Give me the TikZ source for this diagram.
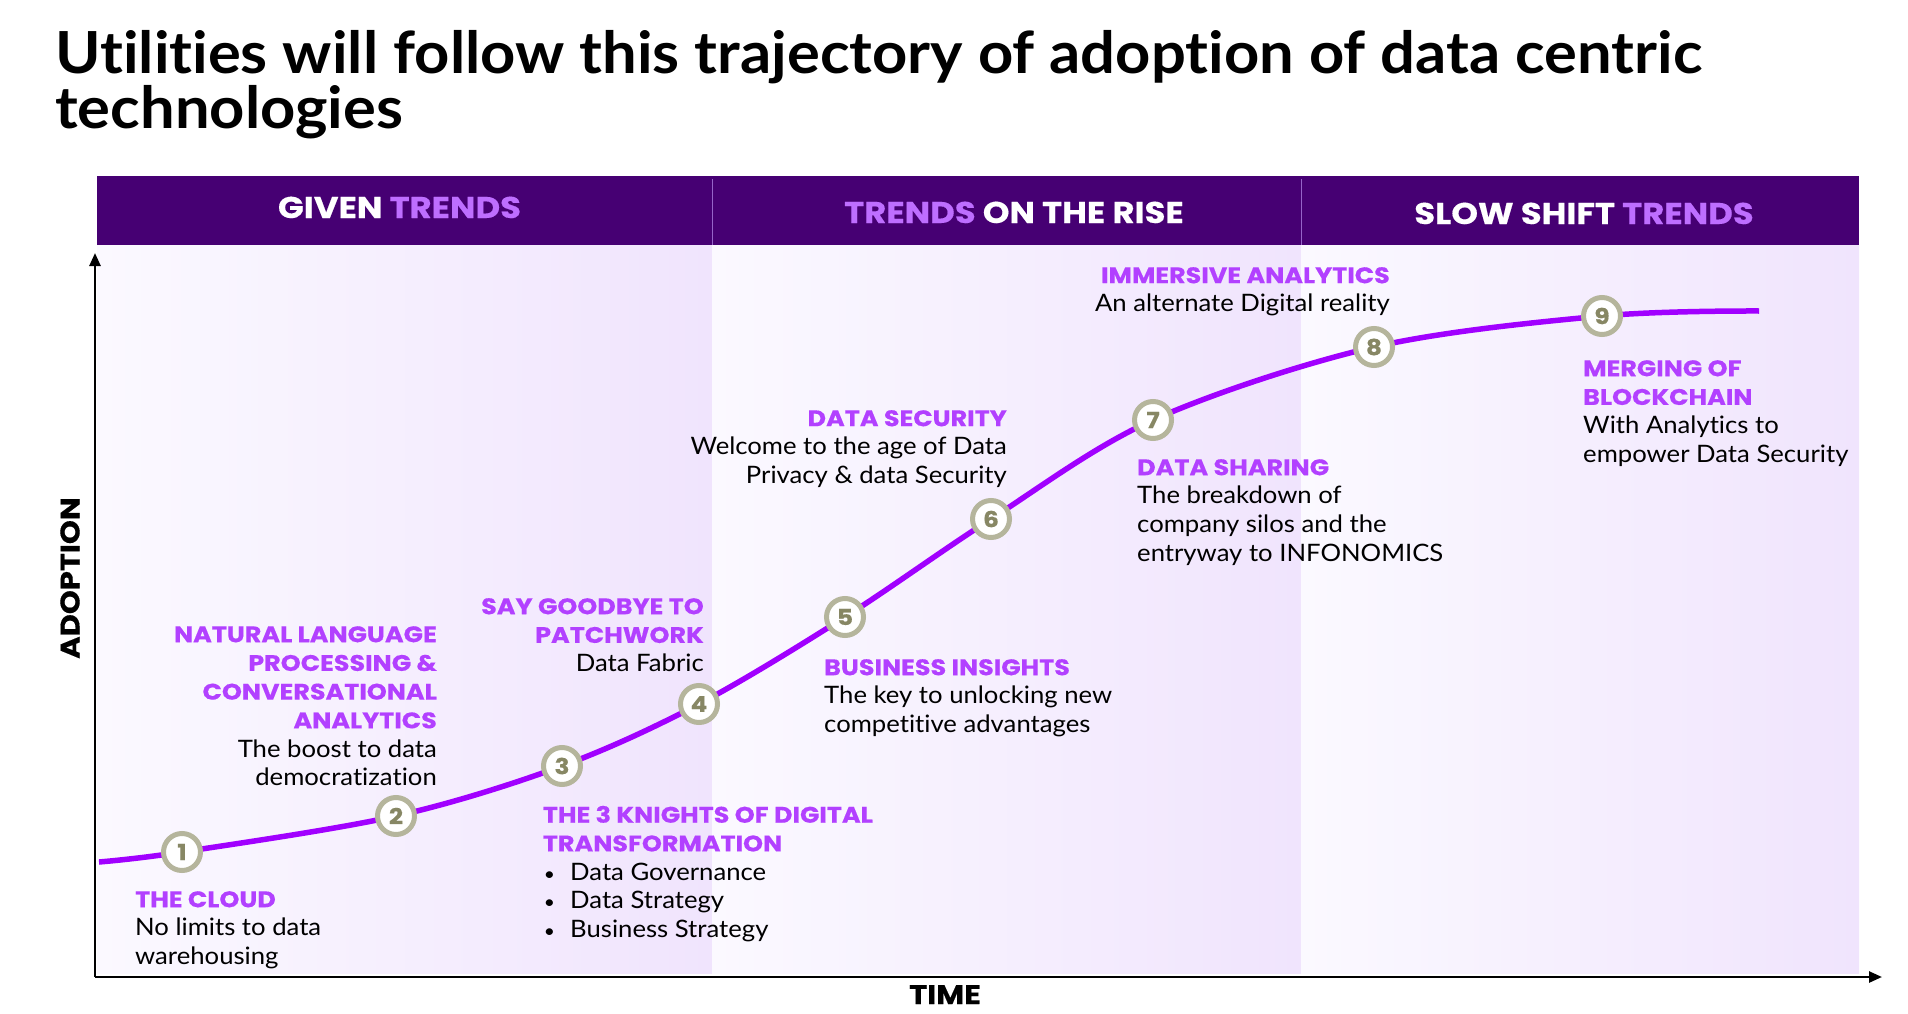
\documentclass[tikz,border=0pt]{standalone}
\usepackage{fontspec}
\setmainfont{Lato}[FakeStretch=1.07, Ligatures=NoCommon]
\newfontfamily\hfont{Poppins}[FakeStretch=1.13, FakeBold=0.4]
\newfontfamily\titlefont{Lato}[FakeStretch=1.06, Ligatures=NoCommon]
\usetikzlibrary{arrows.meta}

\definecolor{band}{RGB}{70,0,115}
\definecolor{curvepurple}{RGB}{161,0,255}
\definecolor{lblpurple}{RGB}{178,64,255}
\definecolor{trendpurple}{RGB}{190,110,255}
\definecolor{ringgrey}{RGB}{181,181,156}
\definecolor{numgrey}{RGB}{135,135,100}
\definecolor{panelL}{RGB}{251,249,255}
\definecolor{panelR}{RGB}{240,228,253}
\definecolor{bandline}{RGB}{150,100,200}

% heading line of a label; \hdf also fixes the top of the first line at 1em above its baseline
\newcommand\hd[1]{{\hfont\bfseries\fontsize{22.5}{28.7}\selectfont\color{lblpurple}#1}}
\newcommand\hdf[1]{\hd{\rule{0pt}{1em}#1}}
\newcommand\bul[1]{\makebox[27.3pt][l]{\hspace{1pt}\scalebox{0.75}{\textbullet}}#1}

\tikzset{
  panel/.style={left color=panelL, right color=panelR, draw=none},
  trend/.style={curvepurple, line width=5.5pt, line cap=butt},
  milestone/.style={circle, draw=ringgrey, line width=5pt, fill=white,
    minimum size=37pt, inner sep=0pt, text=numgrey,
    font=\hfont\bfseries\fontsize{22}{22}\selectfont},
  lbl/.style={inner sep=0pt, text=black, font=\fontsize{24}{28.7}\selectfont},
  bandtext/.style={text=white, inner sep=0pt, font=\hfont\bfseries\fontsize{30}{30}\selectfont},
  axislabel/.style={inner sep=0pt, text=black, font=\hfont\bfseries\fontsize{27}{27}\selectfont},
  axis/.style={line width=2.5pt, -{Triangle[length=13pt,width=11pt]}},
}

\begin{document}
\begin{tikzpicture}[x=1pt,y=-1pt]
\useasboundingbox (0,0) rectangle (1908,1014);

% title
\node[anchor=north west, inner sep=0pt, align=left,
      font=\titlefont\bfseries\fontsize{58}{55}\selectfont] (title) at (55,15)
  {\rule{0pt}{1em}Utilities will follow this trajectory of adoption of data centric\\technologies};

% three phase panels
\shade[panel] (97,245) rectangle (712,973);
\shade[panel] (712,245) rectangle (1301,973);
\shade[panel] (1301,245) rectangle (1859,973);

% header band
\fill[band] (97,176) rectangle (1859,245);
\draw[bandline, line width=1pt] (712,179) -- (712,245);
\draw[bandline, line width=1pt] (1301,179) -- (1301,245);
\node[bandtext, anchor=base] (h1) at (399.5,218) {GIVEN \textcolor{trendpurple}{TRENDS}};
\node[bandtext, anchor=base] (h2) at (1014,223) {\textcolor{trendpurple}{TRENDS} ON THE RISE};
\node[bandtext, anchor=base] (h3) at (1584,224) {SLOW SHIFT \textcolor{trendpurple}{TRENDS}};

% axes
\coordinate (o) at (95,977);
\coordinate (ytop) at (95,253);
\coordinate (xend) at (1882,977);
\draw[axis] (o) -- (ytop);
\draw[axis] (o) -- (xend);
\node[axislabel, rotate=90] (ylab) at (70,578) {ADOPTION};
\node[axislabel, anchor=base] (xlab) at (945,1004) {TIME};

% adoption curve
\coordinate (c0) at (99,862);
\coordinate (p1) at (182,852);
\coordinate (p2) at (396,816);
\coordinate (p3) at (562,766);
\coordinate (p4) at (699,704);
\coordinate (p5) at (845,617);
\coordinate (p6) at (991,519);
\coordinate (p7) at (1153,420);
\coordinate (p8) at (1374,347);
\coordinate (p9) at (1602,316);
\coordinate (c10) at (1759,311);
\draw[trend] plot[smooth, tension=0.55] coordinates
  {(c0) (p1) (p2) (p3) (p4) (p5) (p6) (p7) (p8) (p9) (c10)};

\foreach \i in {1,...,9}
  \node[milestone] (m\i) at (p\i) {\i};

% milestone labels
\node[lbl, anchor=north west, align=left] (l1) at (135,884.5)
  {\hdf{THE CLOUD}\\No limits to data\\warehousing};
\node[lbl, anchor=north east, align=right] (l2) at (437,619.5)
  {\hdf{NATURAL LANGUAGE}\\\hd{PROCESSING \&}\\\hd{CONVERSATIONAL}\\\hd{ANALYTICS}\\The boost to data\\democratization};
\node[lbl, anchor=north west, align=left] (l3) at (542.7,800)
  {\hdf{THE 3 KNIGHTS OF DIGITAL}\\\hd{TRANSFORMATION}\\\bul{Data Governance}\\\bul{Data Strategy}\\\bul{Business Strategy}};
\node[lbl, anchor=north east, align=right] (l4) at (704,591.5)
  {\hdf{SAY GOODBYE TO}\\\hd{PATCHWORK}\\Data Fabric};
\node[lbl, anchor=north west, align=left] (l5) at (824,652.5)
  {\hdf{BUSINESS INSIGHTS}\\The key to unlocking new\\competitive advantages};
\node[lbl, anchor=north east, align=right] (l6) at (1007,403.5)
  {\hdf{DATA SECURITY}\\Welcome to the age of Data\\Privacy \& data Security};
\node[lbl, anchor=north west, align=left] (l7) at (1137,452.5)
  {\hdf{DATA SHARING}\\The breakdown of\\company silos and the\\entryway to INFONOMICS};
\node[lbl, anchor=north east, align=right] (l8) at (1390,260.5)
  {\hdf{IMMERSIVE ANALYTICS}\\An alternate Digital reality};
\node[lbl, anchor=north west, align=left] (l9) at (1583,353.5)
  {\hdf{MERGING OF}\\\hd{BLOCKCHAIN}\\With Analytics to\\empower Data Security};

\end{tikzpicture}
\end{document}
